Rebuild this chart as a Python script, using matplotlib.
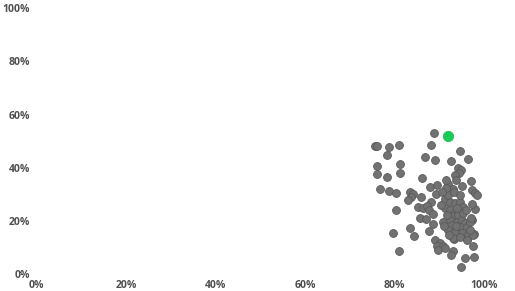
import matplotlib
matplotlib.use("Agg")
import matplotlib.pyplot as plt
from matplotlib.ticker import FuncFormatter

# Gray points: (x %, y %)
gray_x = [88.8, 75.6, 76.0, 78.7, 80.9, 88.1, 78.3, 94.6, 86.7, 89.0, 92.6, 96.4,
          76.0, 81.2, 94.1, 94.8, 94.3, 93.5, 76.0, 78.3, 81.2, 86.1, 97.0, 93.7,
          76.7, 78.7, 80.3, 87.9, 89.4, 91.9, 93.0, 95.0, 97.2, 97.9, 98.4,
          83.4, 84.1, 83.6, 83.0, 89.2, 85.9, 91.2, 88.1, 85.2, 86.3, 87.2,
          80.3, 87.6, 97.9, 88.5, 85.6, 87.0, 90.8, 97.2, 83.4, 87.6, 79.6, 84.3,
          89.0, 90.1, 89.4, 90.8, 89.7, 91.2, 93.2, 94.6, 96.1, 97.7, 97.5,
          93.0, 92.6, 80.9, 95.7, 97.7, 94.8,
          92.3, 93.4, 94.6, 95.2, 91.2, 92.3, 93.4, 93.0, 94.1, 92.3, 93.9, 95.0,
          95.7, 92.8, 94.6, 96.1, 96.8, 97.0, 95.2, 91.9, 93.4, 95.0, 96.4, 97.5,
          93.0, 94.6, 96.1, 91.7, 93.9, 95.9, 91.9, 93.2, 94.6, 91.4, 90.5, 90.3,
          91.0, 92.1, 93.7, 96.8, 88.6, 91.5, 97.3]
gray_y = [53.1, 48.2, 48.2, 47.8, 48.6, 48.6, 44.8, 46.3, 44.0, 42.9, 42.5, 43.3,
          40.6, 41.4, 39.9, 39.1, 38.0, 37.3, 37.6, 36.5, 38.0, 36.1, 35.0, 35.4,
          32.0, 31.2, 30.5, 32.7, 33.5, 33.9, 32.0, 33.1, 31.6, 30.5, 29.7,
          30.9, 30.1, 29.0, 27.9, 30.1, 29.0, 28.2, 27.1, 25.2, 24.8, 25.6,
          24.1, 24.1, 24.5, 22.6, 21.1, 20.7, 19.6, 20.3, 17.3, 16.2, 15.4, 14.3,
          12.8, 11.7, 10.5, 10.5, 9.0, 9.8, 13.2, 14.3, 13.2, 15.1, 10.5,
          8.7, 7.2, 8.7, 6.0, 6.4, 2.6,
          27.1, 26.7, 27.1, 25.2, 24.8, 24.1, 23.3, 21.8, 22.2, 20.3, 19.6, 20.3,
          19.2, 18.4, 17.7, 17.7, 19.6, 21.1, 23.0, 16.6, 15.8, 15.4, 14.7, 14.7,
          13.5, 13.9, 12.8, 22.2, 24.8, 24.1, 29.7, 30.9, 29.7, 32.4, 30.9, 26.0,
          18.1, 14.7, 18.1, 16.6, 19.0, 35.5, 26.5]

# Highlighted point
green_x = [92.0]
green_y = [51.8]

x_ticks = [0, 20, 40, 60, 80, 100]
y_ticks = [0, 20, 40, 60, 80, 100]

fig = plt.figure(figsize=(5.15, 2.91), dpi=100)
ax = fig.add_axes([0.0713, 0.0584, 0.869, 0.913])
ax.scatter(gray_x, gray_y, s=32, facecolor="#727272", edgecolor="#5a5a5a",
           linewidth=0.6, clip_on=False, zorder=2)
ax.scatter(green_x, green_y, s=56, facecolor="#1dc95a", edgecolor="#17c052",
           linewidth=0.5, clip_on=False, zorder=3)

ax.set_xlim(0, 100)
ax.set_ylim(0, 100)
ax.set_xticks(x_ticks)
ax.set_yticks(y_ticks)
fmt = FuncFormatter(lambda v, p: f"{int(v)}%")
ax.xaxis.set_major_formatter(fmt)
ax.yaxis.set_major_formatter(fmt)
for lab in ax.get_xticklabels() + ax.get_yticklabels():
    lab.set_fontfamily(["Open Sans", "DejaVu Sans"])
    lab.set_fontweight("bold")
    lab.set_fontsize(7.5)
    lab.set_color("#4f4f4f")
ax.tick_params(axis="both", length=0)
ax.tick_params(axis="x", pad=4)
ax.tick_params(axis="y", pad=5)
for s in ax.spines.values():
    s.set_visible(False)
ax.set_facecolor("white")
fig.savefig("out.png", dpi=100, facecolor="white")
